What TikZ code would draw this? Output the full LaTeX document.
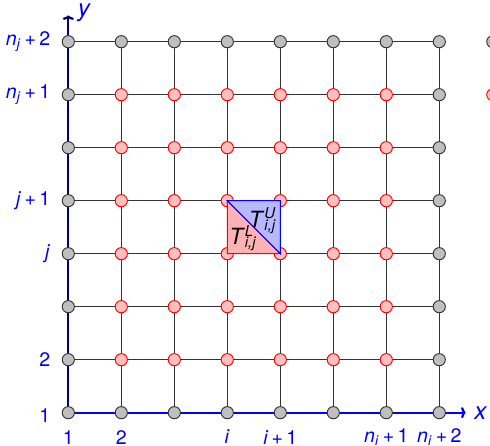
\documentclass[tikz,border=0pt]{standalone}
\usepackage{fontspec}
\setmainfont{TeX Gyre Heros}
\usetikzlibrary{arrows.meta}
\newcommand\Tlab[1]{\textit{T}\rlap{\textsuperscript{\textit{#1}}}\textsubscript{\textit{i,j}}}
\newcommand\nlab[2]{\textit{n}\textsubscript{\textit{#1}}\,+\,#2}
\begin{document}
\begin{tikzpicture}[x=1cm,y=1cm,
  gridline/.style={black!80, line width=0.65pt},
  dot/.style={circle, minimum size=0.23cm, inner sep=0pt, line width=0.5pt},
  gnode/.style={dot, draw=black!80, fill=black!25},
  rnode/.style={dot, draw=red, fill=red!25},
  ticklab/.style={text=blue, font=\fontsize{10.5}{12}\selectfont, inner sep=1pt},
  axlab/.style={text=blue, font=\fontsize{13}{14}\selectfont\itshape, inner sep=1pt},
  tlab/.style={font=\fontsize{12}{13}\selectfont, inner sep=0pt},
]
\useasboundingbox (-1.289,-0.628) rectangle (7.957,7.787);
% coordinates
\foreach \i in {0,...,7}{
  \foreach \j in {0,...,7}{
    \coordinate (c-\i-\j) at (\i,\j);
  }
}
% grid lines
\foreach \k in {0,...,7}{
  \draw[gridline] (c-0-\k) -- (c-7-\k);
  \draw[gridline] (c-\k-0) -- (c-\k-7);
}
% axes
\coordinate (xend) at (7.5,0);
\coordinate (yend) at (0,7.5);
\draw[blue, line width=1.2pt, -{To[length=2.5pt,width=6pt]}] (c-0-0) -- (xend);
\draw[blue!50!black, line width=1.2pt, -{To[length=2.5pt,width=6pt]}] (c-0-0) -- (yend);
% nodes
\foreach \i in {0,...,7}{
  \foreach \j in {0,...,7}{
    \pgfmathtruncatemacro\inner{(\i>0)*(\i<7)*(\j>0)*(\j<7)}
    \ifnum\inner=1
      \node[rnode] (n-\i-\j) at (c-\i-\j) {};
    \else
      \node[gnode] (n-\i-\j) at (c-\i-\j) {};
    \fi
  }
}
% triangles
\filldraw[fill=red!30, draw=red, line width=0.5pt] (c-3-3) -- (c-4-3) -- (c-3-4) -- cycle;
\filldraw[fill=blue!28, draw=blue, line width=0.5pt] (c-3-4) -- (c-4-4) -- (c-4-3) -- cycle;
\node[tlab] (tl) at (3.3,3.29) {\Tlab{L}};
\node[tlab] (tu) at (3.67,3.62) {\Tlab{U}};
% legend markers (cut off)
\node[gnode] (lg) at (8.01,7) {};
\node[rnode] (lr) at (8.01,6) {};
% axis labels
\node[axlab, anchor=west] (xl) at (7.62,0) {x};
\node[axlab, anchor=west] (yl) at (0.14,7.55) {y};
% x tick labels
\node[ticklab] (x1) at (0,-0.46) {1};
\node[ticklab] (x2) at (1,-0.46) {2};
\node[ticklab] (x3) at (3,-0.46) {\textit{i}};
\node[ticklab] (x4) at (4,-0.46) {\textit{i}\,+\,1};
\node[ticklab] (x6) at (6,-0.46) {\nlab{i}{1}};
\node[ticklab] (x7) at (7,-0.46) {\nlab{i}{2}};
% y tick labels
\node[ticklab, anchor=east] (y1) at (-0.3,-0.05) {1};
\node[ticklab, anchor=east] (y2) at (-0.3,1) {2};
\node[ticklab, anchor=east] (y3) at (-0.3,3) {\textit{j}};
\node[ticklab, anchor=east] (y4) at (-0.3,4) {\textit{j}\,+\,1};
\node[ticklab, anchor=east] (y6) at (-0.3,6) {\nlab{j}{1}};
\node[ticklab, anchor=east] (y7) at (-0.3,7) {\nlab{j}{2}};
\end{tikzpicture}
\end{document}
